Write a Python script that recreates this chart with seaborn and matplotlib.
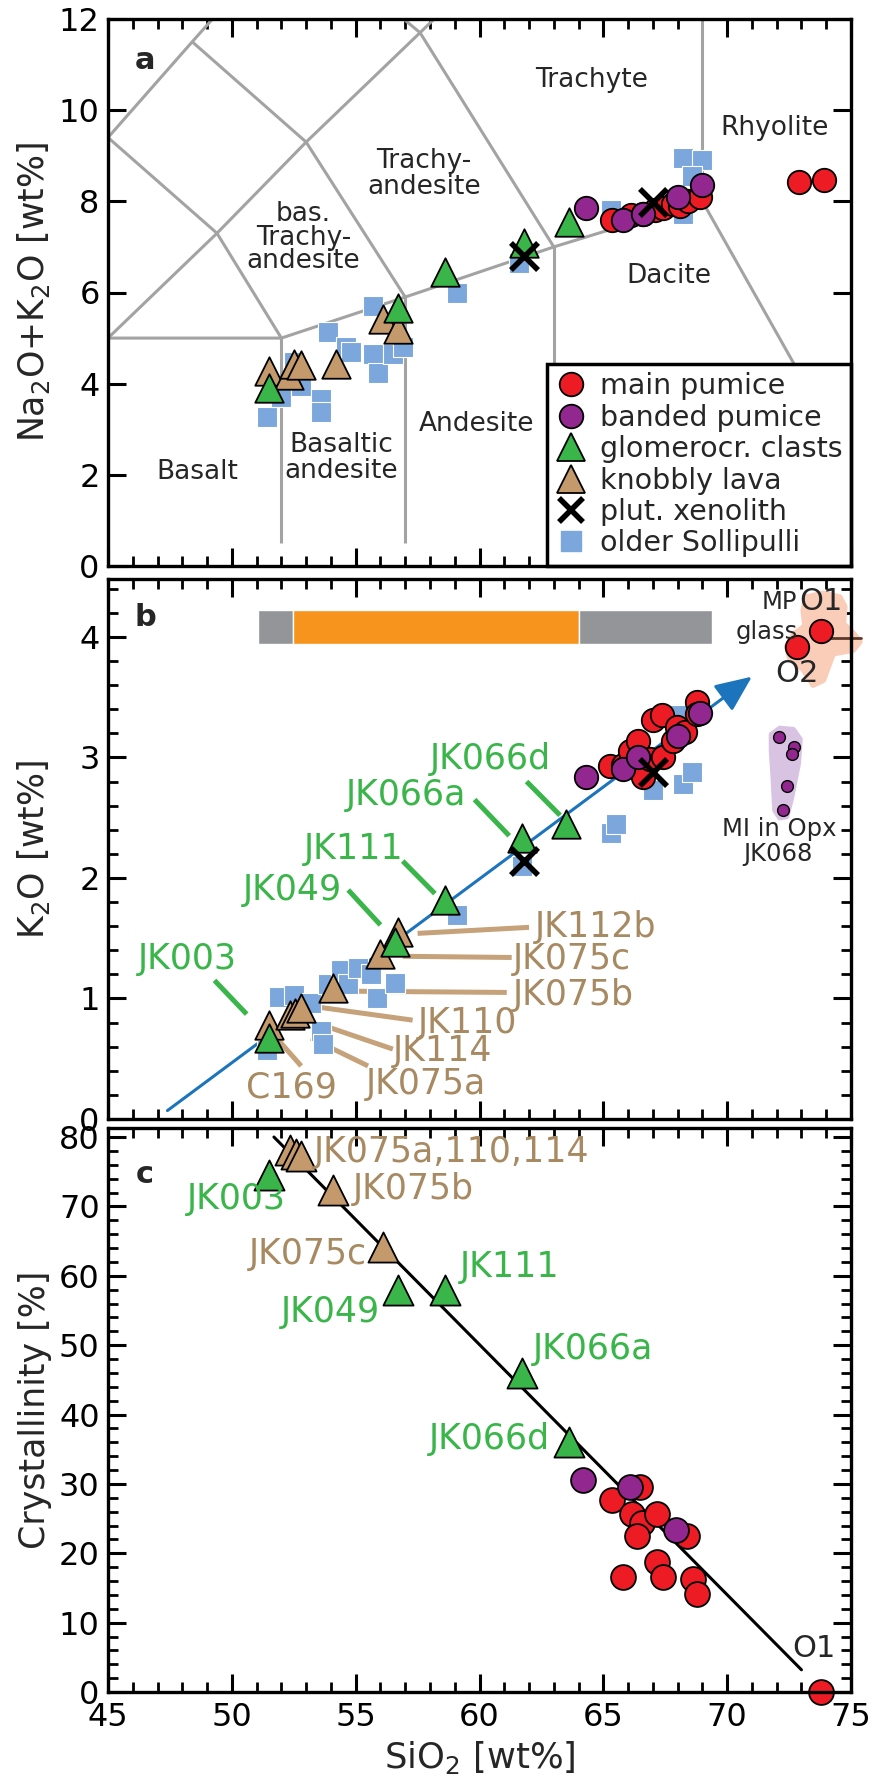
import matplotlib
matplotlib.use("Agg")
import matplotlib.pyplot as plt
from matplotlib.lines import Line2D
from matplotlib.ticker import MultipleLocator, NullLocator
import numpy as np
import pandas as pd
import seaborn as sns

# ======================= DATA =======================
# ---- Panel a: total alkalis vs silica (wt%) ----
a_main_sio2 = [65.35, 66.1, 66.6, 67.1, 67.4, 67.8, 68.1, 68.4, 68.9, 72.9, 73.9]
a_main_alk = [7.58, 7.70, 7.73, 7.80, 7.86, 7.95, 7.90, 8.00, 8.10, 8.43, 8.47]
a_band_sio2 = [64.3, 65.8, 66.6, 68.0, 69.0]
a_band_alk = [7.86, 7.60, 7.72, 8.10, 8.35]
a_glom_sio2 = [51.5, 56.7, 58.6, 61.8, 63.6]
a_glom_alk = [3.90, 5.67, 6.44, 7.08, 7.54]
a_knob_sio2 = [51.5, 52.3, 52.5, 52.8, 54.2, 56.1, 56.7]
a_knob_alk = [4.28, 4.20, 4.44, 4.40, 4.44, 5.42, 5.21]
a_xeno_sio2 = [61.8, 67.0]
a_xeno_alk = [6.80, 7.98]
a_old_sio2 = [51.4, 52.0, 52.5, 52.8, 53.6, 53.6, 53.9, 54.6, 54.8, 55.7, 55.9, 56.5,
              55.7, 56.9, 59.1, 61.6, 65.3, 68.2, 69.0, 68.6, 68.2]
a_old_alk = [3.26, 3.71, 4.48, 3.95, 3.67, 3.38, 5.14, 4.81, 4.70, 4.64, 4.24, 4.64,
             5.70, 4.80, 5.98, 6.64, 7.80, 8.95, 8.90, 8.55, 7.73]

# TAS classification boundaries (SiO2, Na2O+K2O)
tas_lines = [
    [(45, 5), (49.4, 7.3), (53, 9.3), (57.6, 11.7), (61, 13.5)],
    [(45, 9.4), (48.4, 11.5), (52.5, 14)],
    [(45, 9.4), (49.4, 7.3), (52, 5)],
    [(48.4, 11.5), (53, 9.3), (57, 5.9)],
    [(52.5, 14), (57.6, 11.7), (63, 7)],
    [(45, 5), (52, 5), (57, 5.9), (63, 7), (69, 8)],
    [(52, 0.5), (52, 5)],
    [(57, 0.5), (57, 5.9)],
    [(63, 0.5), (63, 7)],
    [(69, 8), (69, 13)],
    [(69, 8), (77.3, 0)],
]
tas_names = ["Trachyte", "Rhyolite", "Trachy-\nandesite", "bas.\nTrachy-\nandesite",
             "Basalt", "Basaltic\nandesite", "Andesite", "Dacite"]
tas_name_sio2 = [64.53, 71.9, 57.75, 52.9, 48.6, 54.43, 59.9, 67.65]
tas_name_alk = [10.67, 9.61, 8.6, 7.2, 2.06, 2.36, 3.11, 6.36]

# ---- Panel b: K2O vs SiO2 (wt%) ----
b_main_sio2 = [65.27, 65.8, 66.07, 66.4, 66.6, 66.9, 67.0, 67.35, 67.4, 67.8, 67.97, 68.3, 68.8, 68.8]
b_main_k2o = [2.93, 2.94, 3.05, 3.14, 2.84, 2.99, 3.31, 3.35, 3.00, 3.14, 3.25, 3.21, 3.46, 3.36]
b_band_sio2 = [64.3, 65.8, 66.4, 68.0, 68.9]
b_band_k2o = [2.84, 2.90, 3.00, 3.18, 3.37]
b_glom_sio2 = [51.5, 56.6, 58.6, 61.7, 63.5]
b_glom_k2o = [0.67, 1.47, 1.82, 2.33, 2.45]
b_knob_sio2 = [51.5, 52.35, 52.55, 52.8, 54.1, 56.0, 56.7]
b_knob_k2o = [0.78, 0.86, 0.88, 0.92, 1.09, 1.37, 1.55]
b_xeno_sio2 = [61.8, 67.0]
b_xeno_k2o = [2.14, 2.88]
b_old_sio2 = [51.4, 51.9, 52.5, 53.2, 53.6, 53.7, 53.9, 54.4, 54.7, 55.1, 55.6, 55.85, 56.6,
              59.1, 61.7, 65.3, 65.5, 67.0, 68.2, 68.6, 68.0]
b_old_k2o = [0.57, 1.01, 1.03, 0.96, 0.73, 0.62, 1.12, 1.24, 1.12, 1.25, 1.20, 1.00, 1.13,
             1.69, 2.10, 2.37, 2.45, 2.73, 2.78, 2.88, 3.35]
mp_glass_sio2 = [73.8, 72.8]          # O1, O2
mp_glass_k2o = [4.05, 3.92]
mi_opx_sio2 = [72.1, 72.7, 72.6, 72.4, 72.25]
mi_opx_k2o = [3.17, 3.09, 3.03, 2.76, 2.56]
mp_field_sio2 = [73.2, 73.88, 74.55, 74.75, 74.69, 75.09, 75.36, 75.09, 74.28, 73.88, 73.47,
                 73.07, 72.53, 72.4, 72.67, 73.14, 73.07]
mp_field_k2o = [4.33, 4.36, 4.33, 4.25, 4.11, 4.03, 3.96, 3.89, 3.86, 3.64, 3.60,
                3.73, 3.82, 3.92, 4.02, 4.09, 4.22]
mi_field_sio2 = [71.79, 72.13, 72.67, 72.94, 72.87, 72.6, 72.4, 72.13, 71.93, 71.86, 71.79]
mi_field_k2o = [3.19, 3.24, 3.23, 3.15, 2.95, 2.67, 2.51, 2.50, 2.56, 2.84, 3.06]
trend_sio2 = [47.4, 71.0]
trend_k2o = [0.07, 3.67]
bar_edges = [51.05, 52.45, 64.0, 69.4]
bar_k2o = 4.08

# ---- Panel c: crystallinity (%) vs SiO2 ----
c_main_sio2 = [66.48, 65.33, 66.14, 66.55, 67.15, 66.34, 68.36, 67.15, 67.42, 65.8, 68.63, 68.77, 73.8]
c_main_cry = [29.6, 27.7, 25.6, 24.4, 25.6, 22.5, 22.5, 18.8, 16.6, 16.6, 16.3, 14.1, 0.0]
c_band_sio2 = [64.19, 66.07, 67.95]
c_band_cry = [30.6, 29.6, 23.4]
c_glom_sio2 = [51.5, 56.7, 58.6, 61.7, 63.6]
c_glom_cry = [74.5, 58.0, 58.0, 46.0, 36.0]
c_knob_sio2 = [52.35, 52.6, 52.8, 54.1, 56.1]
c_knob_cry = [78.2, 77.6, 77.2, 72.3, 64.2]
fit_sio2 = [51.7, 73.0]
fit_cry = [80.0, 3.2]

# ---- sample labels ----
b_green_labels = ["JK003", "JK049", "JK111", "JK066a", "JK066d"]
b_brown_labels = ["C169", "JK075a", "JK114", "JK110", "JK075b", "JK075c", "JK112b"]
c_green_labels = ["JK003", "JK049", "JK111", "JK066a", "JK066d"]
c_brown_labels = ["JK075a,110,114", "JK075b", "JK075c"]

# ======================= STYLE / LAYOUT =======================
RED, PURPLE, GREEN, TAN = "#ED1C24", "#92278F", "#39B54A", "#C49A6C"
BLUE, ARROW = "#7BA7DC", "#1C75BC"
TAN_TXT, TAN_LINE = "#A88A62", "#C6A27A"
GREY_LINE, BAR_GREY, BAR_ORANGE = "#A3A3A3", "#939598", "#F7941D"
PEACH, LAVENDER = "#F9CDB8", "#D8C4E2"

sns.set_style("ticks")
plt.rcParams.update({
    "font.family": ["DejaVu Sans"],
    "mathtext.default": "regular",
    "axes.linewidth": 2.4,
    "axes.edgecolor": "black",
    "xtick.color": "black", "ytick.color": "black",
    "xtick.direction": "in", "ytick.direction": "in",
    "xtick.major.size": 13, "ytick.major.size": 13,
    "xtick.minor.size": 7, "ytick.minor.size": 7,
    "xtick.major.width": 2.2, "ytick.major.width": 2.2,
    "xtick.minor.width": 2.0, "ytick.minor.width": 2.0,
    "xtick.labelsize": 23, "ytick.labelsize": 23,
})

fig = plt.figure(figsize=(8.82, 17.8), dpi=100)
L, W = 108 / 882, 743 / 882


def box(top_px, bot_px):
    return [L, 1 - bot_px / 1780, W, (bot_px - top_px) / 1780]


ax_a = fig.add_axes(box(19, 566))
ax_b = fig.add_axes(box(579, 1119))
ax_c = fig.add_axes(box(1128, 1692))


def pts(ax, x, y, marker, face, size, edge="black", lw=1.3, z=3):
    df = pd.DataFrame({"SiO2": x, "val": y})
    if marker == "x":
        sns.scatterplot(data=df, x="SiO2", y="val", marker="x", color=face, s=size,
                        linewidth=lw, ax=ax, zorder=z, legend=False, clip_on=False)
    else:
        sns.scatterplot(data=df, x="SiO2", y="val", marker=marker, color=face, s=size,
                        edgecolor=edge, linewidth=lw, ax=ax, zorder=z, legend=False,
                        clip_on=False)


S_SQ, S_TRI, S_CIR, S_X = 205, 420, 285, 380

# ----------------------- panel a -----------------------
for line in tas_lines:
    xs, ys = zip(*line)
    ax_a.plot(xs, ys, color=GREY_LINE, lw=2.2, zorder=1, solid_capstyle="butt")
for name, x, y in zip(tas_names, tas_name_sio2, tas_name_alk):
    ls = 0.88 if name.startswith("bas.") else 1.0
    ax_a.text(x, y, name, fontsize=19, ha="center", va="center", linespacing=ls, zorder=2)

pts(ax_a, a_old_sio2, a_old_alk, "s", BLUE, S_SQ, edge="white", lw=0.8, z=3)
pts(ax_a, a_knob_sio2, a_knob_alk, "^", TAN, S_TRI, z=4)
pts(ax_a, a_glom_sio2, a_glom_alk, "^", GREEN, S_TRI, z=4)
pts(ax_a, a_main_sio2, a_main_alk, "o", RED, S_CIR, z=5)
pts(ax_a, a_band_sio2, a_band_alk, "o", PURPLE, S_CIR, z=5)
pts(ax_a, a_xeno_sio2, a_xeno_alk, "x", "black", S_X, lw=4, z=6)

handles = [
    Line2D([], [], ls="none", marker="o", ms=17, mfc=RED, mec="k", mew=1.3, label="main pumice"),
    Line2D([], [], ls="none", marker="o", ms=17, mfc=PURPLE, mec="k", mew=1.3, label="banded pumice"),
    Line2D([], [], ls="none", marker="^", ms=20, mfc=GREEN, mec="k", mew=1.3, label="glomerocr. clasts"),
    Line2D([], [], ls="none", marker="^", ms=20, mfc=TAN, mec="k", mew=1.3, label="knobbly lava"),
    Line2D([], [], ls="none", marker="x", ms=17, mec="k", mew=4, label="plut. xenolith"),
    Line2D([], [], ls="none", marker="s", ms=14, mfc=BLUE, mec=BLUE, label="older Sollipulli"),
]
leg = ax_a.legend(handles=handles, loc="lower right", bbox_to_anchor=(1, 0), borderaxespad=0,
                  fontsize=20.5, frameon=True, fancybox=False, framealpha=1, edgecolor="black",
                  handlelength=1.1, handletextpad=0.45, borderpad=0.3, labelspacing=0.12)
leg.get_frame().set_linewidth(2.5)
leg.set_zorder(10)

ax_a.set_ylim(0, 12)
ax_a.yaxis.set_major_locator(MultipleLocator(2))
ax_a.yaxis.set_minor_locator(NullLocator())
ax_a.set_ylabel("Na$_2$O+K$_2$O [wt%]", fontsize=25)

# ----------------------- panel b -----------------------
ax_b.barh([bar_k2o] * 3, np.diff(bar_edges), left=bar_edges[:-1], height=0.28,
          color=[BAR_GREY, BAR_ORANGE, BAR_GREY], zorder=2)
ax_b.fill(mp_field_sio2, mp_field_k2o, color=PEACH, ec=PEACH, lw=4, joinstyle="round",
          zorder=1, clip_on=False)
ax_b.fill(mi_field_sio2, mi_field_k2o, color=LAVENDER, ec=LAVENDER, lw=4, joinstyle="round",
          zorder=1)
ax_b.annotate("", xy=(trend_sio2[1], trend_k2o[1]), xytext=(trend_sio2[0], trend_k2o[0]),
              arrowprops=dict(arrowstyle="-|>,head_length=0.8,head_width=0.35", color=ARROW,
                              lw=2.2, mutation_scale=28, shrinkA=0, shrinkB=0), zorder=2)

pts(ax_b, b_old_sio2, b_old_k2o, "s", BLUE, S_SQ + 20, edge="white", lw=0.8, z=3)
pts(ax_b, b_knob_sio2, b_knob_k2o, "^", TAN, S_TRI, z=4)
pts(ax_b, b_glom_sio2, b_glom_k2o, "^", GREEN, S_TRI, z=4)
pts(ax_b, b_main_sio2, b_main_k2o, "o", RED, S_CIR, z=5)
pts(ax_b, b_band_sio2, b_band_k2o, "o", PURPLE, S_CIR, z=5)
pts(ax_b, b_xeno_sio2, b_xeno_k2o, "x", "black", S_X, lw=4, z=6)
ax_b.plot([mp_glass_sio2[0] + 0.4, 75.4], [mp_glass_k2o[0] - 0.06] * 2, color="#5A3A2A",
          lw=2, zorder=4, clip_on=False)
pts(ax_b, mp_glass_sio2, mp_glass_k2o, "o", RED, S_CIR, z=5)
pts(ax_b, mi_opx_sio2, mi_opx_k2o, "o", PURPLE, 72, lw=1.0, z=5)

# leader lines and labels (green)
b_green_pos = [(48.2, 1.33), (52.45, 1.90), (54.9, 2.24), (57.05, 2.69), (60.45, 2.99)]
b_green_lead = [((49.3, 1.15), (50.6, 0.87)), ((54.7, 1.90), (56.0, 1.61)),
                ((56.9, 2.14), (58.2, 1.87)), ((59.8, 2.65), (61.2, 2.35)),
                ((61.9, 2.80), (63.25, 2.52))]
for t, (x, y), (p0, p1) in zip(b_green_labels, b_green_pos, b_green_lead):
    ax_b.text(x, y, t, color=GREEN, fontsize=25, ha="center", va="center", zorder=7)
    ax_b.plot([p0[0], p1[0]], [p0[1], p1[1]], color=GREEN, lw=3.6, zorder=2,
              solid_capstyle="butt")
# brown
b_brown_pos = [(52.4, 0.26, "center"), (55.4, 0.29, "left"), (56.5, 0.56, "left"),
               (57.5, 0.80, "left"), (61.35, 1.03, "left"), (61.35, 1.33, "left"),
               (62.25, 1.59, "left")]
b_brown_lead = [((51.9, 0.65), (52.8, 0.44)), ((53.2, 0.67), (55.5, 0.44)),
                ((53.5, 0.79), (56.5, 0.58)), ((53.6, 0.925), (57.3, 0.82)),
                ((54.9, 1.06), (61.1, 1.05)), ((56.9, 1.35), (61.3, 1.34)),
                ((57.5, 1.54), (62.0, 1.59))]
for t, (x, y, ha), (p0, p1) in zip(b_brown_labels, b_brown_pos, b_brown_lead):
    ax_b.text(x, y, t, color=TAN_TXT, fontsize=25, ha=ha, va="center", zorder=7)
    ax_b.plot([p0[0], p1[0]], [p0[1], p1[1]], color=TAN_LINE, lw=3.6, zorder=2,
              solid_capstyle="butt")

ax_b.text(72.82, 4.29, "MP", fontsize=17.5, ha="right", va="center", zorder=7)
ax_b.text(72.85, 4.04, "glass", fontsize=17.5, ha="right", va="center", zorder=7)
ax_b.text(73.77, 4.29, "O1", fontsize=22, ha="center", va="center", zorder=7)
ax_b.text(72.8, 3.70, "O2", fontsize=22, ha="center", va="center", zorder=7)
ax_b.text(72.1, 2.41, "MI in Opx", fontsize=17.5, ha="center", va="center", zorder=7)
ax_b.text(72.07, 2.20, "JK068", fontsize=17.5, ha="center", va="center", zorder=7)

ax_b.set_ylim(0, 4.48)
ax_b.yaxis.set_major_locator(MultipleLocator(1))
ax_b.yaxis.set_minor_locator(MultipleLocator(0.2))
ax_b.set_ylabel("K$_2$O [wt%]", fontsize=25)

# ----------------------- panel c -----------------------
sns.lineplot(x=fit_sio2, y=fit_cry, color="black", lw=2.2, ax=ax_c, zorder=2)
pts(ax_c, c_knob_sio2, c_knob_cry, "^", TAN, 470, z=4)
pts(ax_c, c_glom_sio2, c_glom_cry, "^", GREEN, 470, z=4)
pts(ax_c, c_main_sio2, c_main_cry, "o", RED, 320, z=5)
pts(ax_c, c_band_sio2, c_band_cry, "o", PURPLE, 320, z=5)

c_green_pos = [(50.2, 71.0, "center"), (54.0, 54.8, "center"), (59.2, 61.3, "left"),
               (62.16, 49.5, "left"), (62.85, 36.5, "right")]
for t, (x, y, ha) in zip(c_green_labels, c_green_pos):
    ax_c.text(x, y, t, color=GREEN, fontsize=25, ha=ha, va="center", zorder=7)
c_brown_pos = [(53.3, 77.8, "left"), (54.9, 72.5, "left"), (55.45, 63.2, "right")]
for t, (x, y, ha) in zip(c_brown_labels, c_brown_pos):
    ax_c.text(x, y, t, color=TAN_TXT, fontsize=25, ha=ha, va="center", zorder=7)
ax_c.text(73.5, 6.3, "O1", fontsize=22, ha="center", va="center", zorder=7)

ax_c.set_ylim(0, 81.3)
ax_c.yaxis.set_major_locator(MultipleLocator(10))
ax_c.yaxis.set_minor_locator(MultipleLocator(2))
ax_c.set_ylabel("Crystallinity [%]", fontsize=25)
ax_c.set_xlabel("SiO$_2$ [wt%]", fontsize=25.5)
ax_c.xaxis.set_label_coords(0.5, -0.083)

# ----------------------- common axes styling -----------------------
for ax, letter, ly in ((ax_a, "a", 0.925), (ax_b, "b", 0.928), (ax_c, "c", 0.917)):
    ax.set_xlim(45, 75)
    ax.xaxis.set_major_locator(MultipleLocator(5))
    ax.xaxis.set_minor_locator(MultipleLocator(1))
    ax.tick_params(which="both", direction="in", top=True, right=True)
    ax.tick_params(axis="y", which="major", pad=6)
    ax.tick_params(axis="x", which="major", pad=7)
    for s in ax.spines.values():
        s.set_visible(True)
        s.set_linewidth(2.4)
        s.set_zorder(12)
    ax.yaxis.set_label_coords(-0.075, 0.5)
    ax.text(0.05, ly, letter, transform=ax.transAxes, fontsize=22, fontweight="bold",
            ha="center", va="center")
    if ax is not ax_c:
        ax.set_xlabel("")
        ax.tick_params(axis="x", labelbottom=False)

fig.savefig("out.png", dpi=100)
